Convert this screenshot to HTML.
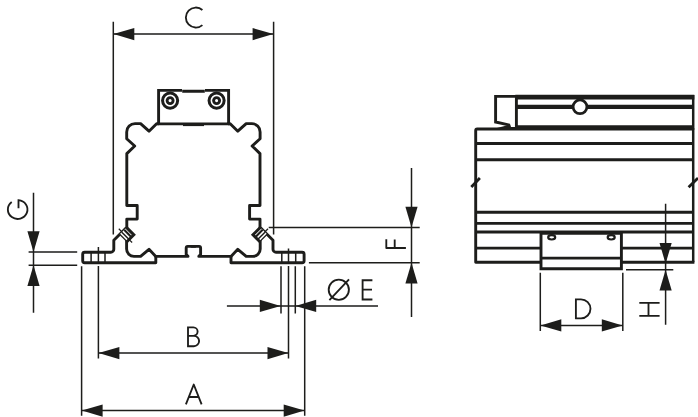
<!DOCTYPE html>
<html lang="en">
<head>
<meta charset="utf-8">
<title>Dimension drawing</title>
<style>
  html, body { margin: 0; padding: 0; background: #ffffff; }
  body { width: 698px; height: 417px; overflow: hidden; font-family: "Liberation Sans", sans-serif; }
  svg { display: block; }
  .k { fill: none; stroke: #1d1d1b; stroke-width: 2.9; stroke-linejoin: round; stroke-linecap: round; }
  .kb { fill: none; stroke: #1d1d1b; stroke-width: 2.9; stroke-linejoin: miter; stroke-linecap: butt; }
  .t { fill: none; stroke: #1d1d1b; stroke-width: 1.5; stroke-linecap: butt; }
  .a { fill: #1d1d1b; stroke: none; }
  .l { fill: none; stroke: #1d1d1b; stroke-width: 1.85; stroke-linecap: butt; stroke-linejoin: miter; }
</style>
</head>
<body>
<svg width="698" height="417" viewBox="0 0 698 417" role="img" aria-label="Dimension drawing with dimensions A, B, C, D, E, F, G, H">
  <rect width="698" height="417" fill="#ffffff"/>
  <defs>
    <!-- left half of the profile (front view); mirrored about x=193.4 -->
    <g id="half">
      <path class="k" d="M158.6 123.8 L156.6 123.8 L149 131.2 L140.6 123.6 L135 123.6 A8.3 8.3 0 0 0 126.7 131.9 L126.7 138.7 L134.7 146 L126.8 153.6 L126.8 205.5 L137.2 205.5 L137.2 219.1 L126.8 219.1 L126.8 227.2 L113.8 240.2 L113.8 249.2 A3 3 0 0 1 110.8 252.2 L84.7 252.2 A2 2 0 0 0 82.7 254.2 L82.7 260.7 A2 2 0 0 0 84.7 262.7 L155.8 262.7 L155.8 256.4"/>
      <path class="k" d="M126.6 240 L126.6 249 A7.4 7.4 0 0 0 134 256.4 L140.6 256.4 L149 249.3 L155.8 256.4 L188 256.4 L186.2 254.6 L186.2 247.9 A1.5 1.5 0 0 1 187.7 246.4 L195 246.4"/>
      <!-- hole edges in foot -->
      <path class="t" d="M91.1 252.2 V262.7 M105 252.2 V262.7"/>
      <!-- threaded insert -->
      <g transform="translate(126.5 227.5) rotate(45)">
        <rect x="0" y="0" width="10.4" height="9.6" fill="#ffffff" stroke="none"/>
        <path class="kb" d="M-0.5 0 H10.4 V10.2"/>
        <path class="t" style="stroke-width:2.1" d="M0 3.3 H10.4"/>
        <path class="t" style="stroke-width:1.5" d="M0 6.65 H10.4"/>
        <path class="t" style="stroke-width:1.2" d="M-4.6 6.3 H0"/>
        <path class="t" style="stroke-width:1.3" d="M0 9.6 H10.4"/>
      </g>
    </g>
    <path id="arr" class="a" d="M0 0 L20.8 -6.1 L20.8 6.1 Z"/>
  </defs>

  <!-- ===== FRONT VIEW ===== -->
  <use href="#half"/>
  <use href="#half" transform="translate(386.8 0) scale(-1 1)"/>

  <g transform="translate(126.5 227.5) rotate(45)"><path class="t" style="stroke-width:1.2" d="M10.4 6.65 H14.6"/></g>

  <!-- top box with screws -->
  <path class="kb" d="M158.6 124 V90.4 H182 M182.2 91.3 H204.8 M205 90.4 H228.6 V124"/>
  <path class="kb" d="M157.4 123.9 H229.8"/>
  <path class="kb" style="stroke-width:2.6" d="M183 124.8 H204"/>
  <g>
    <circle cx="170.1" cy="100.6" r="7.55" fill="#fff" stroke="#1d1d1b" stroke-width="3"/>
    <circle cx="170.1" cy="100.6" r="3" fill="#fff" stroke="#1d1d1b" stroke-width="2.9"/>
    <circle cx="216.6" cy="100.6" r="7.55" fill="#fff" stroke="#1d1d1b" stroke-width="3"/>
    <circle cx="216.6" cy="100.6" r="3" fill="#fff" stroke="#1d1d1b" stroke-width="2.9"/>
  </g>

  <!-- C dimension -->
  <path class="t" d="M113.3 21.8 V234.6 M273.6 21.8 V234.6 M113.3 34.1 H273.6"/>
  <use href="#arr" transform="translate(113.5 34.1)"/>
  <use href="#arr" transform="translate(273.4 34.1) scale(-1 1)"/>
  <path class="l" d="M202.4 10 A10 10 0 1 0 202.4 25.1"/>

  <!-- B dimension -->
  <path class="t" d="M98.4 247 V264 M98.4 266 V358.5 M288.5 248.6 V264 M288.5 266 V358.5 M98.4 353.1 H288.5"/>
  <use href="#arr" transform="translate(98.6 353.1)"/>
  <use href="#arr" transform="translate(288.3 353.1) scale(-1 1)"/>
  <path class="l" d="M188 326.5 V347.1 M187.1 327.4 H193.4 A4.2 4.2 0 0 1 193.4 335.8 H188 M193.4 335.8 H193.9 A5.2 5.2 0 0 1 193.9 346.2 H187.1"/>

  <!-- A dimension -->
  <path class="t" d="M81.6 266.2 V415.8 M304.7 266.2 V415.8 M81.6 410.6 H304.7"/>
  <use href="#arr" transform="translate(81.8 410.6)"/>
  <use href="#arr" transform="translate(304.5 410.6) scale(-1 1)"/>
  <path class="l" style="stroke-linejoin:round" d="M185.9 404.3 L193.75 384.5 L201.6 404.3 M188.6 397 H198.9"/>

  <!-- E dimension (hole diameter) -->
  <path class="t" d="M281 266.3 V313.6 M295.3 266.3 V313.6 M226.9 305.9 H378"/>
  <use href="#arr" transform="translate(280.6 305.9) scale(-1 1)"/>
  <use href="#arr" transform="translate(295.4 305.9)"/>
  <circle class="l" cx="338.8" cy="289.7" r="10.1"/>
  <path class="l" d="M329.4 300.2 L349 279.3"/>
  <path class="l" d="M372.4 280.2 H362.6 V299.5 H372.4 M362.6 289.6 H372"/>

  <!-- G dimension -->
  <path class="t" d="M33.5 192.8 V312.8 M28.6 252 H77.2 M28.6 265.2 H77.2"/>
  <use href="#arr" transform="translate(33.5 252) rotate(-90)"/>
  <use href="#arr" transform="translate(33.5 265.2) rotate(90)"/>
  <path class="l" d="M11.7 202.1 A9.8 9.4 0 1 0 18.5 200.2 V208.2"/>

  <!-- F dimension -->
  <path class="t" d="M411.5 168.1 V317 M268.7 227.6 H419.7 M308.9 262.7 H419.7"/>
  <use href="#arr" transform="translate(411.5 227.6) rotate(-90)"/>
  <use href="#arr" transform="translate(411.5 262.7) rotate(90)"/>
  <path class="l" d="M386.3 239.2 V248 M385.6 248 H405.9 M394.7 239.4 V248"/>

  <!-- ===== SIDE VIEW ===== -->
  <!-- body -->
  <path class="k" d="M693 129 H477.2 A1.5 1.5 0 0 0 475.7 130.5 V262.2 H541"/>
  <path class="kb" style="stroke-width:2.5" d="M693.2 95 V262.2"/>
  <path class="kb" d="M694.4 262.2 H621.4"/>
  <path class="kb" d="M475.7 143.5 H693 M475.7 159.7 H693 M475.7 212.3 H693 M475.7 223.4 H693 M475.7 232 H693 M475.7 248.1 H541 M621.4 248.1 H693"/>
  <!-- top rail -->
  <path class="kb" style="stroke-width:4.7" d="M515.3 97.15 H694.3"/>
  <path class="kb" style="stroke-width:4.3" d="M516 106.8 H693"/>
  <path class="kb" style="stroke-width:4.8" d="M515.5 127.7 H693"/>
  <path class="kb" d="M516.4 95 V128"/>
  <path class="k" style="stroke-linejoin:miter" d="M516 96.4 H495.6 V122 L508.8 124.9 L509.4 126.6"/>
  <path class="a" d="M493 129 L508.6 125 L510 127 L516 127 L516 129.9 L493 129.9 Z"/>
  <circle cx="580" cy="106.8" r="6.9" fill="#fff" stroke="#1d1d1b" stroke-width="2.7"/>
  <!-- break ticks -->
  <path class="kb" style="stroke-width:2.8" d="M471.3 186.9 L479.9 178.1 M688.6 187.2 L698 178"/>
  <!-- bracket -->
  <rect x="541" y="233" width="80.4" height="35.5" fill="#fff" stroke="none"/>
  <path class="kb" d="M541 232 V268.7 H621.4 V232 M541 258.1 H621.4 M540 233.2 H622.5"/>
  <ellipse cx="551.7" cy="237.3" rx="3.5" ry="2.2" fill="#fff" stroke="#1d1d1b" stroke-width="2.2"/>
  <ellipse cx="611.2" cy="237.3" rx="3.5" ry="2.2" fill="#fff" stroke="#1d1d1b" stroke-width="2.2"/>

  <!-- D dimension -->
  <path class="t" d="M540.3 272.8 V330.9 M622.8 272.8 V330.9 M540.3 325.4 H622.8"/>
  <use href="#arr" transform="translate(540.5 325.4)"/>
  <use href="#arr" transform="translate(622.6 325.4) scale(-1 1)"/>
  <path class="l" d="M575.9 298.6 V319 M575.2 299.3 H581 A9.5 9.5 0 0 1 581 318.3 H575.2"/>

  <!-- H dimension -->
  <path class="t" d="M665.6 203.7 V324.7 M626 269.7 H673.3"/>
  <use href="#arr" transform="translate(665.6 263.7) rotate(-90)"/>
  <use href="#arr" transform="translate(665.6 269.7) rotate(90)"/>
  <path class="l" d="M639.3 302.8 H659.6 M639.3 315.8 H659.6 M648.5 302.8 V315.8"/>
</svg>
</body>
</html>
